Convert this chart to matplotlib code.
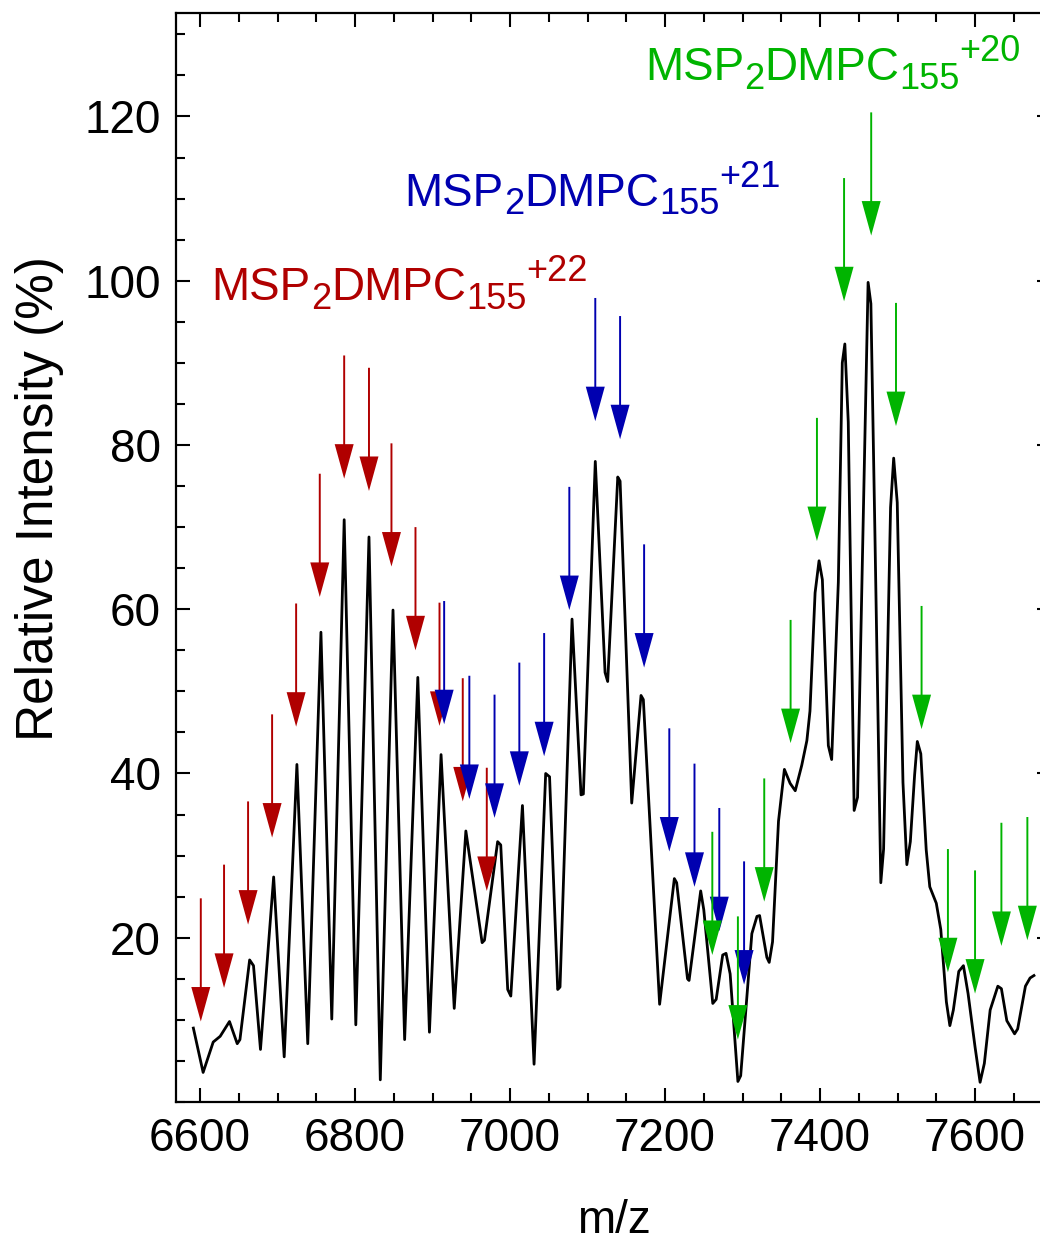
import numpy as np
import matplotlib
matplotlib.use("Agg")
import matplotlib.pyplot as plt
from matplotlib.ticker import MultipleLocator
from matplotlib.transforms import IdentityTransform

plt.rcParams['font.family'] = ['Liberation Sans', 'DejaVu Sans']
plt.rcParams['mathtext.fontset'] = 'custom'
plt.rcParams['mathtext.rm'] = 'Liberation Sans'
plt.rcParams['mathtext.it'] = 'Liberation Sans:italic'

# --- spectrum ---
mz = [6591.4, 6604, 6617, 6626, 6638, 6648, 6651.5, 6664, 6669, 6678,
      6695, 6708.6, 6725, 6739, 6756, 6770, 6786, 6801, 6818, 6832.6,
      6849, 6864, 6881, 6896, 6911, 6928, 6943, 6964, 6967, 6984,
      6988, 6997, 7001, 7016, 7031, 7046, 7051, 7061.5, 7064.5, 7080,
      7091.6, 7094.6, 7110, 7122.6, 7126, 7139, 7142, 7157, 7169, 7172,
      7193, 7212, 7215, 7229, 7231, 7246, 7250, 7261.6, 7266, 7274.4,
      7278.7, 7284, 7294, 7297.6, 7312, 7318.6, 7322, 7331.4, 7334.4, 7338.7,
      7346.4, 7354, 7361.4, 7368, 7376.4, 7383, 7387, 7393.6, 7398.7, 7403,
      7410.7, 7415, 7423.6, 7428.7, 7432, 7436.4, 7444, 7448.4, 7456.6, 7462,
      7465.6, 7470.7, 7478.4, 7482, 7491, 7495, 7499.6, 7507, 7512, 7516.5,
      7522, 7525.5, 7530, 7537, 7541.6, 7550, 7555.8, 7563, 7567.5, 7572,
      7579, 7585, 7591, 7600, 7606.5, 7612, 7619.5, 7629.4, 7634, 7641,
      7651, 7655, 7665, 7671, 7676]
intensity = [9.0, 3.6, 7.3, 8.0, 9.8, 7.1, 7.6, 17.3, 16.6, 6.4,
             27.4, 5.5, 41.1, 7.1, 57.2, 10.1, 70.9, 9.4, 68.8, 2.7,
             59.9, 7.6, 51.7, 8.5, 42.3, 11.4, 33.0, 19.4, 19.7, 31.7,
             31.3, 13.7, 12.9, 36.1, 4.6, 40.0, 39.6, 13.7, 14.0, 58.8,
             37.4, 37.5, 78.0, 52.3, 51.2, 76.1, 75.6, 36.4, 49.5, 49.0,
             11.9, 27.2, 26.7, 15.0, 14.8, 25.7, 23.4, 12.0, 12.5, 17.9,
             18.1, 15.6, 2.5, 3.2, 20.5, 22.6, 22.7, 17.6, 17.0, 19.5,
             34.2, 40.5, 38.8, 37.9, 41.0, 44.0, 47.6, 62.0, 65.9, 63.6,
             43.4, 41.7, 63.3, 90.0, 92.3, 82.8, 35.5, 37.1, 75.0, 99.8,
             97.2, 69.8, 26.7, 30.8, 72.4, 78.4, 73.0, 38.9, 28.9, 31.7,
             39.8, 43.9, 42.4, 30.7, 26.2, 24.2, 21.0, 12.2, 9.3, 11.2,
             15.9, 16.6, 13.2, 6.7, 2.4, 4.7, 11.2, 14.1, 13.8, 9.9,
             8.3, 8.9, 14.1, 15.1, 15.4]

# --- charge-state series: arrow position and tip height ---
red_mz = [6601, 6631, 6662, 6693, 6724, 6754.5, 6786, 6818, 6847, 6878, 6909, 6939, 6970]
red_tip = [9.8, 13.9, 21.6, 32.2, 45.7, 61.5, 75.9, 74.4, 65.2, 55.0, 45.8, 36.6, 25.7]
blue_mz = [6915, 6947.5, 6980, 7012, 7044, 7076.5, 7110, 7142, 7173, 7205.5, 7238, 7270, 7302]
blue_tip = [46.0, 36.9, 34.6, 38.5, 42.1, 59.9, 82.9, 80.7, 52.9, 30.5, 26.2, 20.8, 14.3]
green_mz = [7261, 7294, 7328, 7362, 7396, 7431, 7466, 7498, 7531, 7565, 7600, 7634, 7667.5]
green_tip = [17.9, 7.6, 24.4, 43.7, 68.3, 97.5, 105.5, 82.3, 45.4, 15.8, 13.2, 19.0, 19.7]

charges = ['+22', '+21', '+20']
label_pos = [(6615, 97.6), (6864, 109.1), (7174, 124.4)]

RED, BLUE, GREEN = '#b00000', '#0000b0', '#00b400'
arrow_len = 15

fig = plt.figure(figsize=(10.4, 12.43), dpi=100)
ax = fig.add_axes([176/1040, 141/1243, 875/1040, 1089/1243])

ax.plot(mz, intensity, color='black', lw=2.0, zorder=3)

for xs, tips, col in [(red_mz, red_tip, RED), (blue_mz, blue_tip, BLUE), (green_mz, green_tip, GREEN)]:
    for x, t in zip(xs, tips):
        ax.arrow(x, t + arrow_len, 0, -arrow_len, width=2.5, head_width=24.5,
                 head_length=4.2, length_includes_head=True, color=col, lw=0, zorder=4)

ax.set_xlim(6569, 7698)
ax.set_ylim(0, 132.6)
ax.xaxis.set_major_locator(MultipleLocator(200))
ax.xaxis.set_minor_locator(MultipleLocator(50))
ax.yaxis.set_minor_locator(MultipleLocator(5))
ax.set_yticks([20, 40, 60, 80, 100, 120])

ax.tick_params(which='both', direction='in', top=True, right=True, width=1.5,
               labelsize=33, pad=11)
ax.tick_params(which='major', length=10)
ax.tick_params(which='minor', length=6.5)
for sp in ax.spines.values():
    sp.set_linewidth(1.6)

ax.set_xlabel('m/z', fontsize=33, labelpad=27)
ax.set_ylabel('Relative Intensity (%)', fontsize=37)
ax.yaxis.set_label_coords(-0.128, 0.554)

# species labels: main text 33 pt, sub/superscripts 26 pt, laid out piece by piece
fig.canvas.draw()
renderer = fig.canvas.get_renderer()
px = fig.dpi / 72
for (tx, ty), q, col in zip(label_pos, charges, [RED, BLUE, GREEN]):
    x0, y0 = ax.transData.transform((tx, ty))
    pieces = [('MSP', 33, 0), ('2', 26, -6), ('DMPC', 33, 0), ('155', 26, -6), (q, 26, 14)]
    for s, fs, dy in pieces:
        t = ax.text(x0, y0 + dy * px, s, color=col, fontsize=fs, ha='left', va='baseline',
                    transform=IdentityTransform())
        x0 = t.get_window_extent(renderer).x1

fig.savefig('out.png', dpi=100)
